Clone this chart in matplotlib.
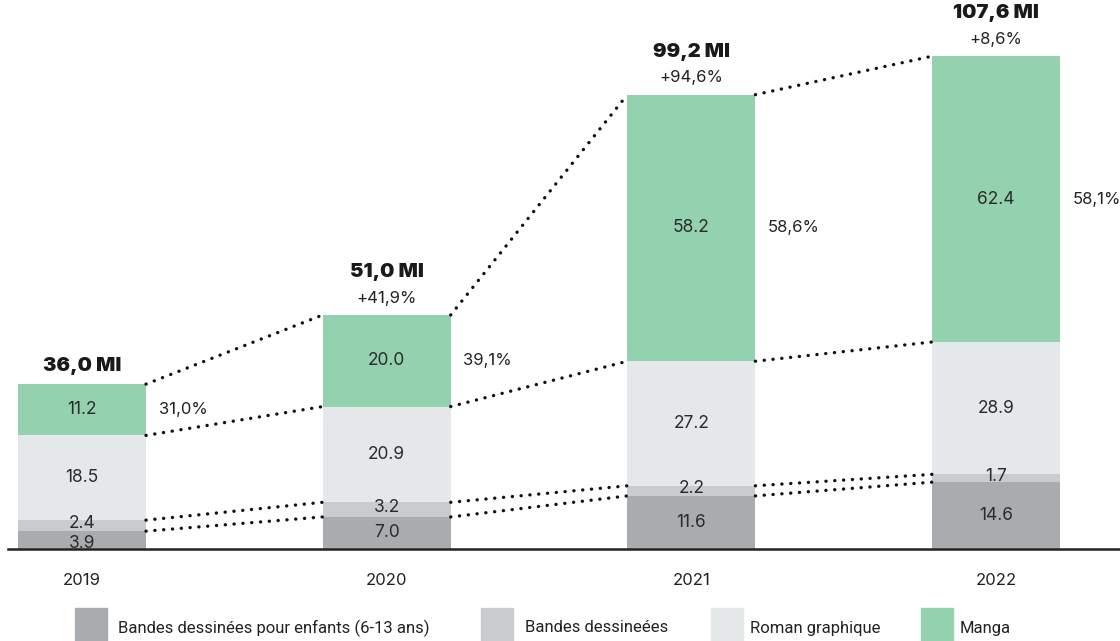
import matplotlib
matplotlib.use("Agg")
import matplotlib.pyplot as plt
from matplotlib.patches import Rectangle
import numpy as np

plt.rcParams['font.family'] = ['Inter', 'DejaVu Sans']

years = ['2019', '2020', '2021', '2022']
enfants = [3.9, 7.0, 11.6, 14.6]
bd = [2.4, 3.2, 2.2, 1.7]
roman = [18.5, 20.9, 27.2, 28.9]
manga = [11.2, 20.0, 58.2, 62.4]
totals = ['36,0 MI', '51,0 MI', '99,2 MI', '107,6 MI']
growth = ['', '+41,9%', '+94,6%', '+8,6%']
manga_share = ['31,0%', '39,1%', '58,6%', '58,1%']

series = [enfants, bd, roman, manga]
names = ['Bandes dessinées pour enfants (6-13 ans)', 'Bandes dessineées',
         'Roman graphique', 'Manga']
colors = ['#a8acae', '#c9cccf', '#e5e8e9', '#94d1af']

PX = 4.58  # pixels per unit
fig = plt.figure(figsize=(11.2, 6.41), dpi=100)
ax = fig.add_axes([0, 0, 1, 1])
ax.set_xlim(-82 / 304.7, (1120 - 82) / 304.7)
ax.set_ylim(-92 / PX, 549 / PX)
ax.axis('off')

x = np.arange(len(years))
w = 128 / 304.7
bottom = np.zeros(len(years))
tops = []
for k, (vals, c) in enumerate(zip(series, colors)):
    vals = np.array(vals)
    ax.bar(x, vals, w, bottom=bottom, color=c, linewidth=0, zorder=2)
    for xi, b, v in zip(x, bottom, vals):
        # nudge labels of very thin segments apart
        dy = 0
        if v < 5:
            dy = -2.5 if k == 0 else 1.5
        ax.annotate(f'{v:.1f}', (xi, b + v / 2), xytext=(0, dy),
                    textcoords='offset points', ha='center', va='center',
                    fontsize=12.5, color='#2b2b2b', zorder=4)
    bottom = bottom + vals
    tops.append(bottom.copy())

# dotted connectors between bars
for t in tops:
    for i in range(len(years) - 1):
        ax.plot([x[i] + w / 2, x[i + 1] - w / 2], [t[i], t[i + 1]],
                color='#111111', lw=2.4, linestyle=(0, (0.05, 2.6)),
                dash_capstyle='round', zorder=3)

total = tops[-1]
for i in range(len(years)):
    if growth[i]:
        ax.annotate(growth[i], (x[i], total[i]), xytext=(0, 12),
                    textcoords='offset points', ha='center', va='center',
                    fontsize=12, color='#222222')
        off = 31
    else:
        off = 13
    ax.annotate(totals[i], (x[i], total[i]), xytext=(0, off),
                textcoords='offset points', ha='center', va='center',
                fontsize=14.5, fontweight='black', color='#1a1a1a')
    mid = tops[2][i] + manga[i] / 2
    ax.annotate(manga_share[i], (x[i] + w / 2, mid), xytext=(9, 0),
                textcoords='offset points', ha='left', va='center',
                fontsize=12, color='#222222')
    ax.annotate(years[i], (x[i], 0), xytext=(0, -23),
                textcoords='offset points', ha='center', va='center',
                fontsize=12, color='#222222')

ax.axhline(0, xmin=8 / 1120, xmax=1, color='#222222', lw=1.8, zorder=5)

# legend
sq_x = [75, 481, 711, 921]
tx_x = [118, 525, 750, 960]
for sx, tx, c, n in zip(sq_x, tx_x, colors, names):
    fig.patches.append(Rectangle((sx / 1120, 0), 32 / 1120, 33 / 641,
                                 transform=fig.transFigure, color=c))
    fig.text(tx / 1120, 1 - 628 / 641, n, ha='left', va='center',
             fontsize=12, color='#222222', family=['Roboto', 'DejaVu Sans'])

fig.savefig('out.png', dpi=100)
